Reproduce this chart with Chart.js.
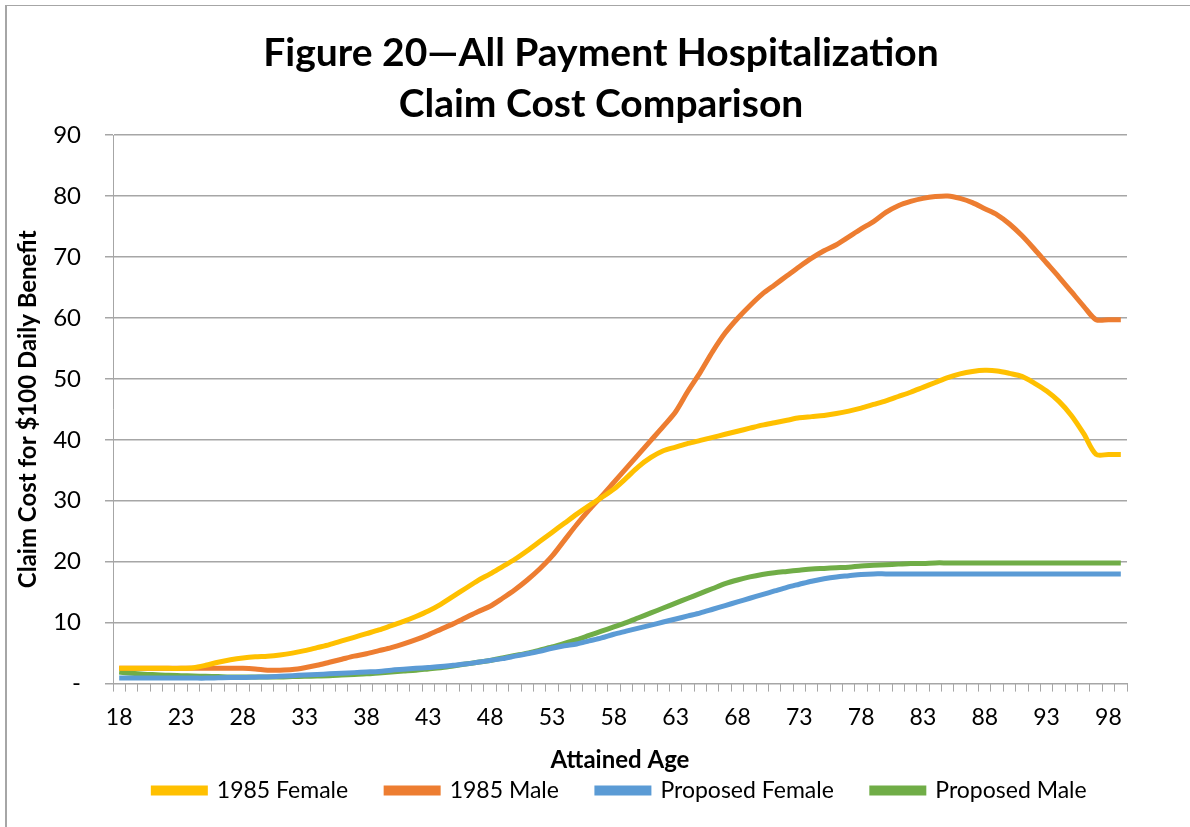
<!DOCTYPE html>
<html>
<head>
<meta charset="utf-8">
<script src="https://cdn.jsdelivr.net/npm/chart.js@4/dist/chart.umd.min.js"></script>
<style>
    body { margin: 0; background: #fff; }
    #wrap { position: relative; width: 1190px; height: 827px; overflow: hidden; }
    #frame {
        position: absolute; left: 5px; top: 5px; width: 1200px; height: 830px;
        border-top: 1px solid #a6a6a6; border-left: 2px solid #a6a6a6;
    }
    canvas { position: absolute; left: 0; top: 0; }
</style>
</head>
<body>
<div id="wrap">
    <div id="frame"></div>
    <canvas id="claim-cost" width="1190" height="827"></canvas>
</div>
<script>
// attained ages 18..99
var ages = [
    18, 19, 20, 21, 22, 23, 24, 25, 26, 27, 28, 29, 30, 31, 32, 33, 34, 35, 36, 37,
    38, 39, 40, 41, 42, 43, 44, 45, 46, 47, 48, 49, 50, 51, 52, 53, 54, 55, 56, 57,
    58, 59, 60, 61, 62, 63, 64, 65, 66, 67, 68, 69, 70, 71, 72, 73, 74, 75, 76, 77,
    78, 79, 80, 81, 82, 83, 84, 85, 86, 87, 88, 89, 90, 91, 92, 93, 94, 95, 96, 97,
    98, 99
];

var female1985 = [
    2.5, 2.5, 2.5, 2.5, 2.5, 2.5, 2.6, 3.0, 3.5, 3.9, 4.2, 4.4, 4.5, 4.7, 5.0, 5.4, 5.9, 6.4, 7.0, 7.6,
    8.2, 8.8, 9.5, 10.2, 11.0, 11.9, 13.0, 14.3, 15.6, 16.9, 18.0, 19.2, 20.4, 21.8, 23.3, 24.8, 26.3, 27.8, 29.2, 30.5,
    31.9, 33.7, 35.6, 37.1, 38.2, 38.8, 39.4, 39.9, 40.4, 40.9, 41.4, 41.9, 42.4, 42.8, 43.2, 43.6, 43.8, 44.0, 44.3, 44.7,
    45.2, 45.8, 46.4, 47.1, 47.8, 48.6, 49.4, 50.2, 50.8, 51.2, 51.4, 51.3, 50.9, 50.4, 49.3, 48.0, 46.3, 44.0, 41.0, 37.6,
    37.6, 37.6
];

var male1985 = [
    2.5, 2.5, 2.5, 2.5, 2.5, 2.5, 2.5, 2.5, 2.5, 2.5, 2.5, 2.4, 2.2, 2.2, 2.3, 2.6, 3.0, 3.5, 4.0, 4.5,
    4.9, 5.4, 5.9, 6.5, 7.2, 8.0, 8.9, 9.8, 10.8, 11.8, 12.7, 14.0, 15.4, 17.0, 18.8, 20.9, 23.5, 26.1, 28.5, 30.7,
    33.0, 35.3, 37.6, 39.9, 42.2, 44.6, 48.0, 51.1, 54.5, 57.5, 59.9, 62.0, 63.9, 65.4, 66.9, 68.4, 69.8, 71.0, 72.0, 73.3,
    74.6, 75.8, 77.3, 78.4, 79.1, 79.6, 79.9, 80.0, 79.6, 78.9, 77.9, 76.9, 75.4, 73.5, 71.3, 69.0, 66.7, 64.3, 61.9, 59.7,
    59.7, 59.7
];

var femaleProposed = [
    0.9, 0.9, 0.9, 0.9, 0.9, 0.9, 0.9, 0.9, 0.95, 1.0, 1.0, 1.05, 1.1, 1.2, 1.3, 1.4, 1.5, 1.6, 1.7, 1.8,
    1.9, 2.0, 2.2, 2.35, 2.5, 2.65, 2.8, 3.0, 3.2, 3.5, 3.8, 4.1, 4.5, 4.9, 5.3, 5.8, 6.2, 6.5, 7.0, 7.5,
    8.1, 8.6, 9.1, 9.6, 10.1, 10.6, 11.1, 11.6, 12.2, 12.8, 13.4, 14.0, 14.6, 15.2, 15.8, 16.3, 16.8, 17.2, 17.5, 17.7,
    17.9, 18.0, 18.0, 18.0, 18.0, 18.0, 18.0, 18.0, 18.0, 18.0, 18.0, 18.0, 18.0, 18.0, 18.0, 18.0, 18.0, 18.0, 18.0, 18.0,
    18.0, 18.0
];

var maleProposed = [
    1.9, 1.7, 1.55, 1.45, 1.35, 1.3, 1.25, 1.2, 1.15, 1.1, 1.1, 1.1, 1.1, 1.1, 1.15, 1.2, 1.25, 1.3, 1.4, 1.5,
    1.6, 1.75, 1.9, 2.05, 2.2, 2.4, 2.6, 2.9, 3.2, 3.5, 3.8, 4.2, 4.6, 5.0, 5.5, 6.0, 6.6, 7.2, 7.9, 8.6,
    9.3, 10.0, 10.8, 11.6, 12.4, 13.2, 14.0, 14.8, 15.6, 16.4, 17.0, 17.5, 17.9, 18.2, 18.4, 18.6, 18.8, 18.9, 19.0, 19.1,
    19.3, 19.4, 19.5, 19.6, 19.7, 19.7, 19.8, 19.8, 19.8, 19.8, 19.8, 19.8, 19.8, 19.8, 19.8, 19.8, 19.8, 19.8, 19.8, 19.8,
    19.8, 19.8
];

var titleLines = ["Figure 20\u2014All Payment Hospitalization", "Claim Cost Comparison"];
var gridGrey = "#a6a6a6";
var fontFamily = "Lato, 'Open Sans', sans-serif";

// title drawn centred over the plot like the original
var titlePlugin = {
    id: "figureTitle",
    afterDraw: function (chart) {
        var ctx = chart.ctx;
        ctx.save();
        ctx.fillStyle = "#000";
        ctx.font = "bold 39px " + fontFamily;
        ctx.textAlign = "center";
        ctx.textBaseline = "middle";
        ctx.fillText(titleLines[0], 601, 53);
        ctx.fillText(titleLines[1], 601, 104);
        ctx.restore();
    },
};

function series(label, data, color) {
    return {
        label: label,
        data: data,
        borderColor: color,
        backgroundColor: color,
        borderWidth: 5,
        pointRadius: 0,
        tension: 0.3,
        fill: false,
    };
}

var ctx = document.getElementById("claim-cost").getContext("2d");
var myChart = new Chart(ctx, {
    type: "line",
    data: {
        labels: ages,
        datasets: [
            series("1985 Female", female1985, "#ffc000"),
            series("1985 Male", male1985, "#ed7d31"),
            series("Proposed Female", femaleProposed, "#5b9bd5"),
            series("Proposed Male", maleProposed, "#70ad47"),
        ],
    },
    plugins: [titlePlugin],
    options: {
        responsive: false,
        animation: false,
        layout: {
            padding: { top: 135, left: 5, right: 63, bottom: 15 },
        },
        plugins: {
            title: { display: false },
            tooltip: { enabled: false },
            legend: {
                position: "bottom",
                fullSize: false,
                labels: {
                    boxWidth: 52,
                    boxHeight: 5,
                    padding: 38,
                    color: "#000",
                    font: { family: fontFamily, size: 23 },
                },
            },
        },
        scales: {
            x: {
                type: "category",
                offset: true,
                grid: {
                    offset: true,
                    drawOnChartArea: false,
                    drawTicks: true,
                    tickLength: 8,
                    color: gridGrey,
                },
                border: { color: gridGrey },
                ticks: {
                    autoSkip: false,
                    maxRotation: 0,
                    padding: 12,
                    color: "#000",
                    font: { family: fontFamily, size: 23 },
                    callback: function (value, index) {
                        return index % 5 === 0 ? this.getLabelForValue(value) : "";
                    },
                },
                title: {
                    display: true,
                    text: "Attained Age",
                    color: "#000",
                    font: { family: fontFamily, size: 24, weight: "bold" },
                    padding: { top: 3, bottom: -34 },
                },
            },
            y: {
                min: 0,
                max: 90,
                grid: {
                    color: gridGrey,
                    lineWidth: 1.5,
                    tickLength: 8,
                },
                border: { color: gridGrey },
                ticks: {
                    stepSize: 10,
                    padding: 24,
                    color: "#000",
                    font: { family: fontFamily, size: 24 },
                    callback: function (value) {
                        return value === 0 ? "-" : value;
                    },
                },
                title: {
                    display: true,
                    text: "Claim Cost for $100 Daily Benefit",
                    color: "#000",
                    font: { family: fontFamily, size: 24, weight: "bold" },
                    padding: { top: 9, bottom: 4 },
                },
                afterFit: function (scale) {
                    scale.width = 108;
                },
            },
        },
    },
});
</script>
</body>
</html>
